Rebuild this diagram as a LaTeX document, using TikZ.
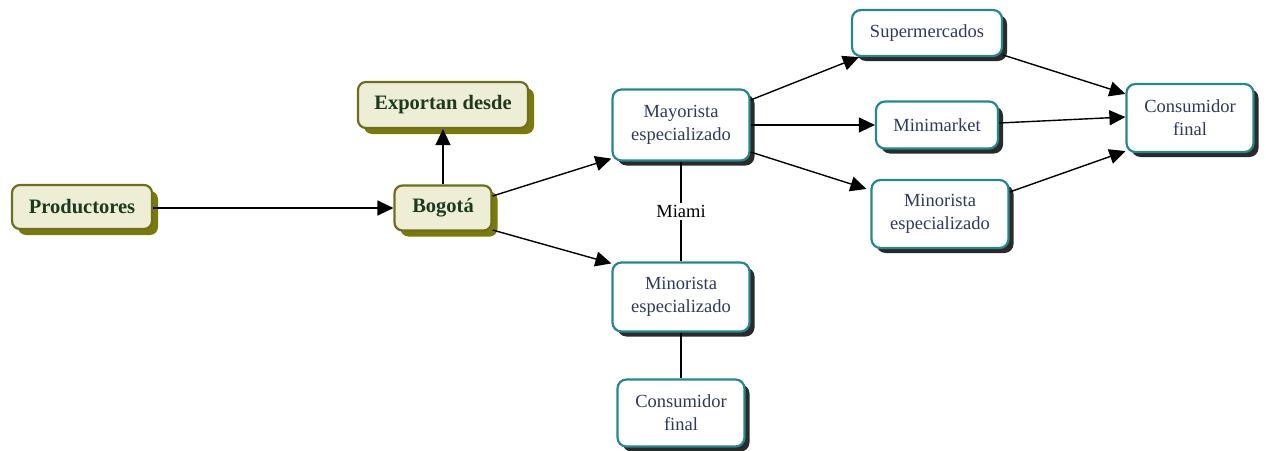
\documentclass[tikz,border=0pt]{standalone}
\usepackage{fontspec}
\setmainfont{Liberation Serif}
\usetikzlibrary{shadows,arrows.meta,calc}
\definecolor{olivebd}{HTML}{6E6E1E}
\definecolor{olivefill}{HTML}{EEEED6}
\definecolor{oliveshadow}{HTML}{7A7A08}
\definecolor{greentext}{HTML}{1C3A1E}
\definecolor{tealbd}{HTML}{23898C}
\definecolor{slatetext}{HTML}{2E3A58}
\definecolor{darkshadow}{HTML}{2A2A2A}
\tikzset{
  olivebox/.style={draw=olivebd, line width=2.2pt, fill=olivefill, rounded corners=8pt,
    text=greentext, font=\fontsize{20.5}{23}\selectfont\bfseries, inner sep=0pt, align=center,
    drop shadow={shadow xshift=6pt, shadow yshift=-6pt, fill=oliveshadow, opacity=1}},
  tealbox/.style={draw=tealbd, line width=2.2pt, fill=white, rounded corners=9pt,
    text=slatetext, font=\fontsize{18.5}{23}\selectfont, inner sep=0pt, align=center,
    drop shadow={shadow xshift=5pt, shadow yshift=-5pt, fill=darkshadow, opacity=1}},
  arr/.style={line width=1.4pt, -{Triangle[length=16pt,width=15pt]}},
  plain/.style={line width=1.4pt},
}
\begin{document}
\begin{tikzpicture}[x=1pt,y=-1pt]
\useasboundingbox (0,0) rectangle (1266,450);
\node[olivebox, minimum width=140pt, minimum height=44pt] (prod) at (82,207) {Productores};
\node[olivebox, minimum width=170pt, minimum height=46pt] (exp) at (443,105) {Exportan desde};
\node[olivebox, minimum width=97pt, minimum height=45pt] (bog) at (443,208) {Bogotá};
\node[tealbox, minimum width=137pt, minimum height=71pt] (may) at (681,125) {Mayorista\\especializado};
\node[tealbox, minimum width=137pt, minimum height=69pt] (minl) at (681,297) {Minorista\\especializado};
\node[tealbox, minimum width=127pt, minimum height=67pt] (cfl) at (681,413) {Consumidor\\final};
\node[tealbox, minimum width=150pt, minimum height=46pt] (sup) at (927,33) {Supermercados};
\node[tealbox, minimum width=122pt, minimum height=47pt] (mini) at (937,125) {Minimarket};
\node[tealbox, minimum width=137pt, minimum height=68pt] (minr) at (940,214) {Minorista\\especializado};
\node[tealbox, minimum width=127pt, minimum height=68pt] (cfr) at (1190,118) {Consumidor\\final};

\draw[arr] (prod.east |- bog.west) -- (bog.west);
\draw[arr] (bog.north) -- (exp.south);
\draw[arr] ([yshift=12pt]bog.east) -- ([yshift=3pt]may.south west);
\draw[arr] ([yshift=-22pt]bog.east) -- ([yshift=-2pt]minl.north west);
\draw[plain] (may.south) -- node[fill=white, text=black, font=\fontsize{18.5}{22}\selectfont, inner sep=2pt] {Miami} (minl.north);
\draw[plain] (minl.south) -- (cfl.north);
\draw[arr] ([yshift=25pt]may.east) -- ([xshift=8pt]sup.south west);
\draw[arr] (may.east) -- (mini.west);
\draw[arr] ([yshift=-27pt]may.east) -- ([xshift=-4pt,yshift=-10pt]minr.north west);
\draw[arr] ([yshift=-22pt]sup.east) -- ([yshift=-11pt]cfr.north west);
\draw[arr] ([yshift=2pt]mini.east) -- ([yshift=1pt]cfr.west);
\draw[arr] ([yshift=22pt]minr.east) -- ([yshift=2pt]cfr.south west);
\end{tikzpicture}
\end{document}
